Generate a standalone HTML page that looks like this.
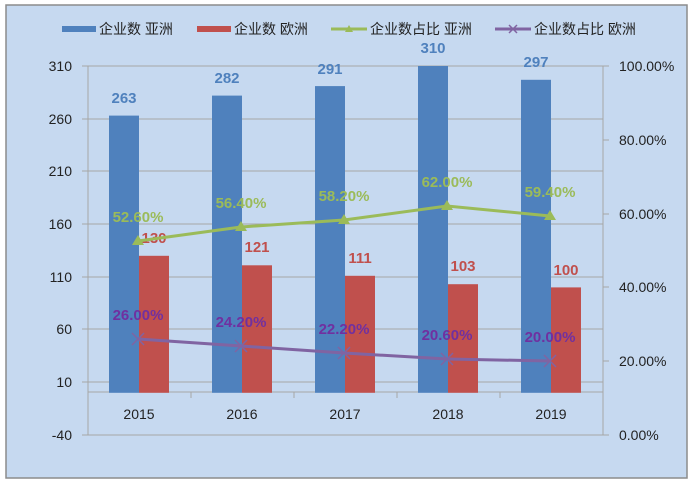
<!DOCTYPE html>
<html><head><meta charset="utf-8"><style>
body{margin:0;background:#fff;}
svg{display:block;font-family:"Liberation Sans","Noto Sans CJK SC",sans-serif;}
</style></head><body>
<svg width="698" height="486" viewBox="0 0 698 486">
<rect x="0" y="0" width="698" height="486" fill="#fff"/>
<rect x="6" y="5" width="681" height="473" fill="#c6d9f0" stroke="#8c8c8c" stroke-width="1.5"/>
<!-- legend -->
<g font-size="14" fill="#222">
<rect x="62" y="26" width="34" height="6" fill="#4f81bd"/><text x="99" y="34">企业数 亚洲</text>
<rect x="197" y="26" width="34" height="6" fill="#c0504d"/><text x="234" y="34">企业数 欧洲</text>
<line x1="331" y1="29" x2="367" y2="29" stroke="#9bbb59" stroke-width="3"/><polygon points="349,25 353,32 345,32" fill="#9bbb59"/><text x="370" y="34">企业数占比 亚洲</text>
<line x1="495" y1="29" x2="531" y2="29" stroke="#8064a2" stroke-width="3"/><path d="M509,25 L517,33 M517,25 L509,33" stroke="#8064a2" stroke-width="1.5"/><text x="534" y="34">企业数占比 欧洲</text>
</g>
<!-- grid -->
<g stroke="#a6a6a6" stroke-width="1">
<line x1="82" y1="66" x2="603" y2="66"/>
<line x1="82" y1="119" x2="603" y2="119"/>
<line x1="82" y1="171" x2="603" y2="171"/>
<line x1="82" y1="224" x2="603" y2="224"/>
<line x1="82" y1="277" x2="603" y2="277"/>
<line x1="82" y1="329" x2="603" y2="329"/>
<line x1="82" y1="382" x2="603" y2="382"/>
<line x1="82" y1="435" x2="603" y2="435"/>
<line x1="88" y1="66" x2="88" y2="435"/>
<line x1="603" y1="66" x2="603" y2="435"/>
<line x1="88" y1="392" x2="603" y2="392"/>
<line x1="191" y1="392" x2="191" y2="398"/>
<line x1="294" y1="392" x2="294" y2="398"/>
<line x1="397" y1="392" x2="397" y2="398"/>
<line x1="500" y1="392" x2="500" y2="398"/>
<line x1="603" y1="66" x2="609" y2="66"/>
<line x1="603" y1="140" x2="609" y2="140"/>
<line x1="603" y1="214" x2="609" y2="214"/>
<line x1="603" y1="287" x2="609" y2="287"/>
<line x1="603" y1="361" x2="609" y2="361"/>
<line x1="603" y1="435" x2="609" y2="435"/>
</g>
<!-- axis labels -->
<g font-size="14" fill="#222" text-anchor="end">
<text x="72" y="71">310</text><text x="72" y="124">260</text><text x="72" y="176">210</text><text x="72" y="229">160</text><text x="72" y="282">110</text><text x="72" y="334">60</text><text x="72" y="387">10</text><text x="72" y="440">-40</text>
</g>
<g font-size="14" fill="#222">
<text x="619" y="71">100.00%</text><text x="619" y="145">80.00%</text><text x="619" y="219">60.00%</text><text x="619" y="292">40.00%</text><text x="619" y="366">20.00%</text><text x="619" y="440">0.00%</text>
</g>
<g font-size="14" fill="#222" text-anchor="middle">
<text x="139" y="419">2015</text><text x="242" y="419">2016</text><text x="345" y="419">2017</text><text x="448" y="419">2018</text><text x="551" y="419">2019</text>
</g>
<!-- bars -->
<g fill="#4f81bd">
<rect x="109" y="115.6" width="30" height="277.2"/>
<rect x="212" y="95.6" width="30" height="297.2"/>
<rect x="315" y="86.1" width="30" height="306.7"/>
<rect x="418" y="66" width="30" height="326.8"/>
<rect x="521" y="79.8" width="30" height="313"/>
</g>
<g fill="#c0504d">
<rect x="139" y="255.8" width="30" height="137"/>
<rect x="242" y="265.3" width="30" height="127.5"/>
<rect x="345" y="275.8" width="30" height="117"/>
<rect x="448" y="284.2" width="30" height="108.6"/>
<rect x="551" y="287.4" width="30" height="105.4"/>
</g>
<g font-size="15" font-weight="bold" fill="#4f81bd" text-anchor="middle">
<text x="124" y="103">263</text><text x="227" y="83">282</text><text x="330" y="74">291</text><text x="433" y="53">310</text><text x="536" y="67">297</text>
</g>
<g font-size="15" font-weight="bold" fill="#c0504d" text-anchor="middle">
<text x="154" y="243">130</text><text x="257" y="252">121</text><text x="360" y="263">111</text><text x="463" y="271">103</text><text x="566" y="275">100</text>
</g>
<!-- lines -->
<polyline points="138,241 241,227 344,220 447,206 550,216" fill="none" stroke="#9bbb59" stroke-width="3"/>
<g fill="#9bbb59">
<polygon points="138,235 144,245 132,245"/><polygon points="241,221 247,231 235,231"/><polygon points="344,214 350,224 338,224"/><polygon points="447,200 453,210 441,210"/><polygon points="550,210 556,220 544,220"/>
</g>
<polyline points="138,339 241,346 344,353 447,359 550,361" fill="none" stroke="#8064a2" stroke-width="3"/>
<g stroke="#8064a2" stroke-width="1.5">
<path d="M132,333 L144,345 M144,333 L132,345"/><path d="M235,340 L247,352 M247,340 L235,352"/><path d="M338,347 L350,359 M350,347 L338,359"/><path d="M441,353 L453,365 M453,353 L441,365"/><path d="M544,355 L556,367 M556,355 L544,367"/>
</g>
<g font-size="15" font-weight="bold" fill="#9bbb59" text-anchor="middle">
<text x="138" y="222">52.60%</text><text x="241" y="208">56.40%</text><text x="344" y="201">58.20%</text><text x="447" y="187">62.00%</text><text x="550" y="197">59.40%</text>
</g>
<g font-size="15" font-weight="bold" fill="#7030a0" text-anchor="middle">
<text x="138" y="320">26.00%</text><text x="241" y="327">24.20%</text><text x="344" y="334">22.20%</text><text x="447" y="340">20.60%</text><text x="550" y="342">20.00%</text>
</g>
</svg>
</body></html>
